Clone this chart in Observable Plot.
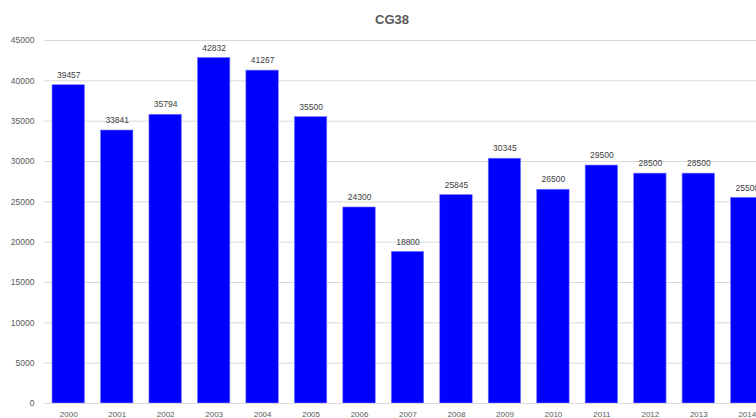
<!DOCTYPE html>
<html>
<head>
<meta charset="utf-8">
<script src="https://cdn.jsdelivr.net/npm/d3@7"></script>
<script src="https://cdn.jsdelivr.net/npm/@observablehq/plot@0.6"></script>
<style>
  html, body { margin: 0; padding: 0; background: #fff; overflow: hidden; width: 756px; height: 418px; }
  #wrap { position: relative; width: 756px; height: 418px; overflow: hidden; }
  #title { position: absolute; left: 0; width: 784px; top: 12px; text-align: center; line-height: 16px;
           font: bold 13px "Liberation Sans", "DejaVu Sans", sans-serif; color: #595959; }
  #chart { position: absolute; left: 0; top: 0; width: 771px; }
  #chart svg { max-width: none !important; width: 771px; height: 418px; }
</style>
</head>
<body>
<div id="wrap">
  <div id="chart"></div>
  <div id="title">CG38</div>
</div>
<script>
// Yearly totals for CG38
const years = ["2000", "2001", "2002", "2003", "2004", "2005", "2006", "2007",
               "2008", "2009", "2010", "2011", "2012", "2013", "2014"];
const values = [39457, 33841, 35794, 42832, 41267, 35500, 24300, 18800,
                25845, 30345, 26500, 29500, 28500, 28500, 25500];
const yTicks = [0, 5000, 10000, 15000, 20000, 25000, 30000, 35000, 40000, 45000];

const data = years.map((year, i) => ({year, value: values[i]}));

const chart = Plot.plot({
  width: 771,
  height: 418,
  marginTop: 40,
  marginBottom: 15,
  marginLeft: 44,
  marginRight: 0,
  style: {fontFamily: "'Liberation Sans', 'DejaVu Sans', sans-serif", background: "#fff", maxWidth: "none"},
  x: {domain: years, paddingInner: 0.33, paddingOuter: 0.165, round: false, label: null},
  y: {domain: [0, 45000], label: null},
  marks: [
    Plot.ruleY(yTicks.filter(d => d > 0), {stroke: "#d9d9d9", strokeWidth: 1}),
    Plot.axisY(yTicks, {tickSize: 0, tickPadding: 10, fontSize: 8.5, fill: "#595959",
                        tickFormat: d => String(d), label: null}),
    Plot.axisX({tickSize: 0, tickPadding: 8, fontSize: 8, fill: "#595959", label: null}),
    Plot.barY(data, {x: "year", y: "value", fill: "#0000ff", stroke: "#7f7fff", strokeWidth: 0.6}),
    Plot.ruleY([0], {stroke: "#d9d9d9", strokeWidth: 1}),
    Plot.text(data, {x: "year", y: "value", text: d => String(d.value), dy: -10,
                     fontSize: 8.5, fill: "#404040"})
  ]
});
document.getElementById("chart").append(chart);
</script>
</body>
</html>
